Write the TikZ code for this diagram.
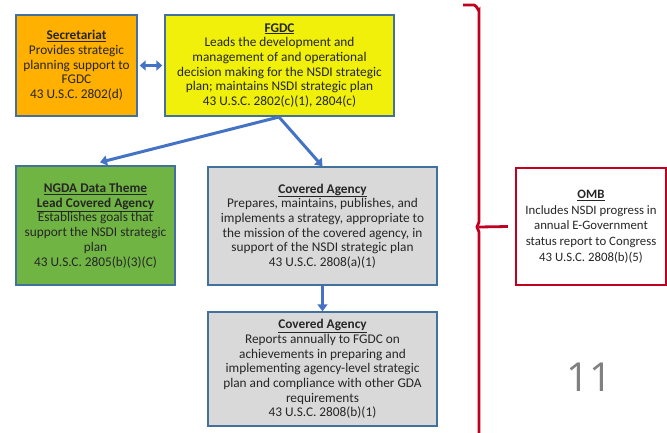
\documentclass[tikz,border=0pt]{standalone}
\usepackage{fontspec}
\setmainfont{Carlito}
\newfontfamily\numfont{Open Sans}
\usetikzlibrary{arrows.meta}
\definecolor{bordblue}{HTML}{41719C}
\definecolor{arrblue}{HTML}{4472C4}
\definecolor{orangeb}{HTML}{FFB000}
\definecolor{yellowb}{HTML}{F0F00A}
\definecolor{greenb}{HTML}{70B443}
\definecolor{grayb}{HTML}{D9D9D9}
\definecolor{redb}{HTML}{C00020}
\definecolor{pagegray}{HTML}{808080}
\tikzset{
  box/.style={draw=bordblue, line width=1.4pt, inner sep=1pt, align=center,
    font=\fontsize{13.3}{14.7}\selectfont, text=black!85},
  arr/.style={draw=arrblue, line width=3pt, -{Triangle[length=7pt,width=10pt]}},
  darr/.style={draw=arrblue, line width=3pt, {Triangle[length=6pt,width=10pt]}-{Triangle[length=6pt,width=10pt]}},
  brace/.style={draw=redb, line width=2.8pt},
}
\newcommand{\ttl}[1]{\textbf{\underline{#1}}}
\begin{document}
\begin{tikzpicture}[x=1pt,y=-1pt]
\useasboundingbox (0,0) rectangle (667,432);
\node[box, fill=orangeb, minimum width=121pt, minimum height=101pt] (sec) at (76.5,65.5)
  {\ttl{Secretariat}\\Provides strategic\\planning support to\\FGDC\\43 U.S.C. 2802(d)};
\node[box, fill=yellowb, minimum width=229pt, minimum height=101pt] (fgdc) at (279.5,65.5)
  {\ttl{FGDC}\\Leads the development and\\management of and operational\\decision making for the NSDI strategic\\plan; maintains NSDI strategic plan\\43 U.S.C. 2802(c)(1), 2804(c)};
\node[box, fill=greenb, minimum width=159pt, minimum height=119pt] (ngda) at (95.5,225.5)
  {\ttl{NGDA Data Theme}\\\ttl{Lead Covered Agency}\\Establishes goals that\\support the NSDI strategic\\plan\\43 U.S.C. 2805(b)(3)(C)};
\node[box, fill=grayb, minimum width=229pt, minimum height=118pt] (ca1) at (322.5,226)
  {\ttl{Covered Agency}\\Prepares, maintains, publishes, and\\implements a strategy, appropriate to\\the mission of the covered agency, in\\support of the NSDI strategic plan\\43 U.S.C. 2808(a)(1)};
\node[box, fill=grayb, minimum width=229pt, minimum height=114pt] (ca2) at (322.5,369)
  {\ttl{Covered Agency}\\Reports annually to FGDC on\\achievements in preparing and\\implementing agency-level strategic\\plan and compliance with other GDA\\requirements\\43 U.S.C. 2808(b)(1)};
\node[box, draw=redb, line width=2.2pt, fill=white, minimum width=150pt, minimum height=117pt,
  font=\fontsize{12.8}{15.8}\selectfont] (omb) at (591,226.5)
  {\ttl{OMB}\\Includes NSDI progress in\\annual E-Government\\status report to Congress\\43 U.S.C. 2808(b)(5)};
\node[text=pagegray, font=\numfont\fontsize{40}{40}\selectfont] (pg) at (589,377) {11};
% connectors
\draw[darr] ([xshift=2pt]sec.east) -- ([xshift=-2pt]fgdc.east -| fgdc.west);
\coordinate (fork) at (279,117);
\draw[arr] (fork) -- ([xshift=4.5pt,yshift=3pt]ngda.north);
\draw[arr] (fork) -- (ca1.north);
\draw[arr] (ca1.south) -- (ca2.north);
% red brace
\coordinate (bt) at (463,5);
\coordinate (bm) at (479,227);
\coordinate (bb) at (479,434);
\draw[brace] (bt) -- (474,5) to[out=0,in=-90] (479,10) -- (479,222) -- (477,227) -- (479,232) -- (bb);
\draw[brace] (bm) -- ([xshift=-7pt]omb.west);
\end{tikzpicture}
\end{document}
